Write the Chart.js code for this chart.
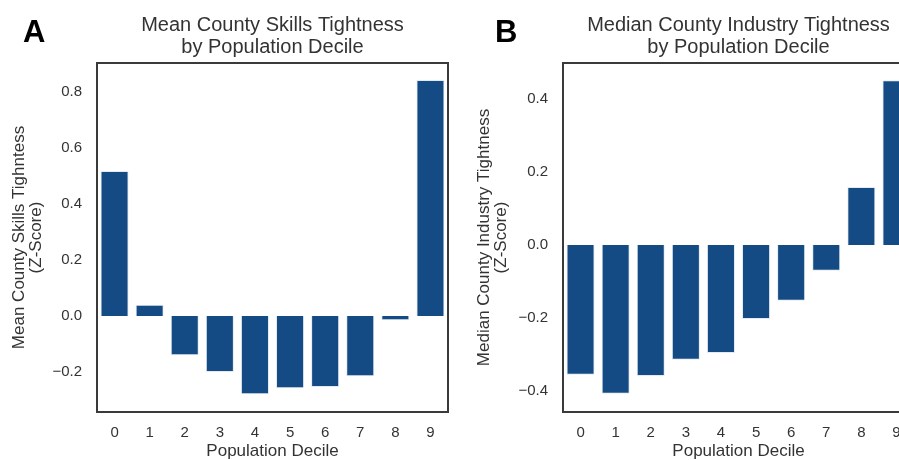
<!DOCTYPE html>
<html>
<head>
<meta charset="utf-8">
<script src="https://cdn.jsdelivr.net/npm/chart.js@4.4.1/dist/chart.umd.min.js"></script>
<style>
  html, body { margin: 0; padding: 0; background: #fff; }
  body { width: 899px; height: 460px; overflow: hidden; position: relative; }
  .panel { position: absolute; top: 0; height: 460px; }
  .tag { position: absolute; font: bold 31px "Liberation Sans", Arial, sans-serif; color: #000; line-height: 1; }
</style>
</head>
<body>
<div class="panel" style="left:0; width:450px;"><canvas id="chartA" width="450" height="460"></canvas></div>
<div class="panel" style="left:450px; width:466px;"><canvas id="chartB" width="466" height="460"></canvas></div>
<div class="tag" style="left:23px; top:16px;">A</div>
<div class="tag" style="left:495px; top:16px;">B</div>
<script>
// deciles on the x axis
const deciles = ['0', '1', '2', '3', '4', '5', '6', '7', '8', '9'];

// panel A: mean skills tightness (z-score)
const skillsMean = [0.518, 0.040, -0.140, -0.200, -0.280, -0.258, -0.254, -0.215, -0.015, 0.843];
const ticksA = [-0.2, 0.0, 0.2, 0.4, 0.6, 0.8];

// panel B: median industry tightness (z-score)
const industryMedian = [-0.356, -0.408, -0.359, -0.315, -0.296, -0.203, -0.153, -0.071, 0.159, 0.452];
const ticksB = [-0.4, -0.2, 0.0, 0.2, 0.4];

const barColor = '#154b85';
const textColor = '#333333';
const FONT = '"Liberation Sans", Arial, sans-serif';

// box around the plot area, like the matplotlib frame
const framePlugin = {
    id: 'frame',
    afterDraw(chart) {
        const a = chart.chartArea;
        const ctx = chart.ctx;
        ctx.save();
        ctx.strokeStyle = '#3a3a3a';
        ctx.lineWidth = 2;
        ctx.strokeRect(a.left, a.top, a.right - a.left, a.bottom - a.top);
        ctx.restore();
    }
};

function fmt(v) {
    return v.toFixed(1).replace('-', '\u2212');
}

function makeChart(id, values, tickVals, yMin, yMax, title, yTitle, yWidth, yTitlePad) {
    const ctx = document.getElementById(id).getContext('2d');
    return new Chart(ctx, {
        type: 'bar',
        data: {
            labels: deciles,
            datasets: [{
                data: values,
                backgroundColor: barColor,
                borderColor: '#e3eaf2',
                borderWidth: 1,
                barPercentage: 0.8,
                categoryPercentage: 1.0
            }]
        },
        plugins: [framePlugin],
        options: {
            responsive: false,
            animation: false,
            layout: { padding: { left: 0, right: 2, top: 0, bottom: 0 } },
            plugins: {
                legend: { display: false },
                tooltip: { enabled: false },
                title: {
                    display: true,
                    text: title,
                    fullSize: false,
                    color: textColor,
                    font: { family: FONT, size: 20, weight: 'normal', lineHeight: 1.1 },
                    padding: { top: 14, bottom: 5 }
                }
            },
            scales: {
                x: {
                    grid: { display: false, drawTicks: false },
                    border: { display: false },
                    ticks: { color: textColor, font: { family: FONT, size: 15 }, padding: 12, maxRotation: 0 },
                    title: {
                        display: true,
                        text: 'Population Decile',
                        color: textColor,
                        font: { family: FONT, size: 17, lineHeight: 1 },
                        padding: { top: 0, bottom: 0 }
                    },
                    afterFit(scale) { scale.height = 48; }
                },
                y: {
                    min: yMin,
                    max: yMax,
                    grid: { display: false, drawTicks: false },
                    border: { display: false },
                    afterBuildTicks(scale) { scale.ticks = tickVals.map(v => ({ value: v })); },
                    ticks: {
                        color: textColor,
                        font: { family: FONT, size: 15 },
                        padding: 15,
                        callback: v => fmt(v)
                    },
                    title: {
                        display: true,
                        text: yTitle,
                        color: textColor,
                        font: { family: FONT, size: 17, lineHeight: 1 },
                        padding: { top: yTitlePad, bottom: 0 }
                    },
                    afterFit(scale) { scale.width = yWidth; }
                }
            }
        }
    });
}

makeChart('chartA', skillsMean, ticksA, -0.343, 0.904,
    ['Mean County Skills Tightness', 'by Population Decile'],
    ['Mean County Skills Tighntess', '(Z-Score)'], 97, 10.5);

makeChart('chartB', industryMedian, ticksB, -0.458, 0.499,
    ['Median County Industry Tightness', 'by Population Decile'],
    ['Median County Industry Tightness', '(Z-Score)'], 113, 25.5);
</script>
</body>
</html>
